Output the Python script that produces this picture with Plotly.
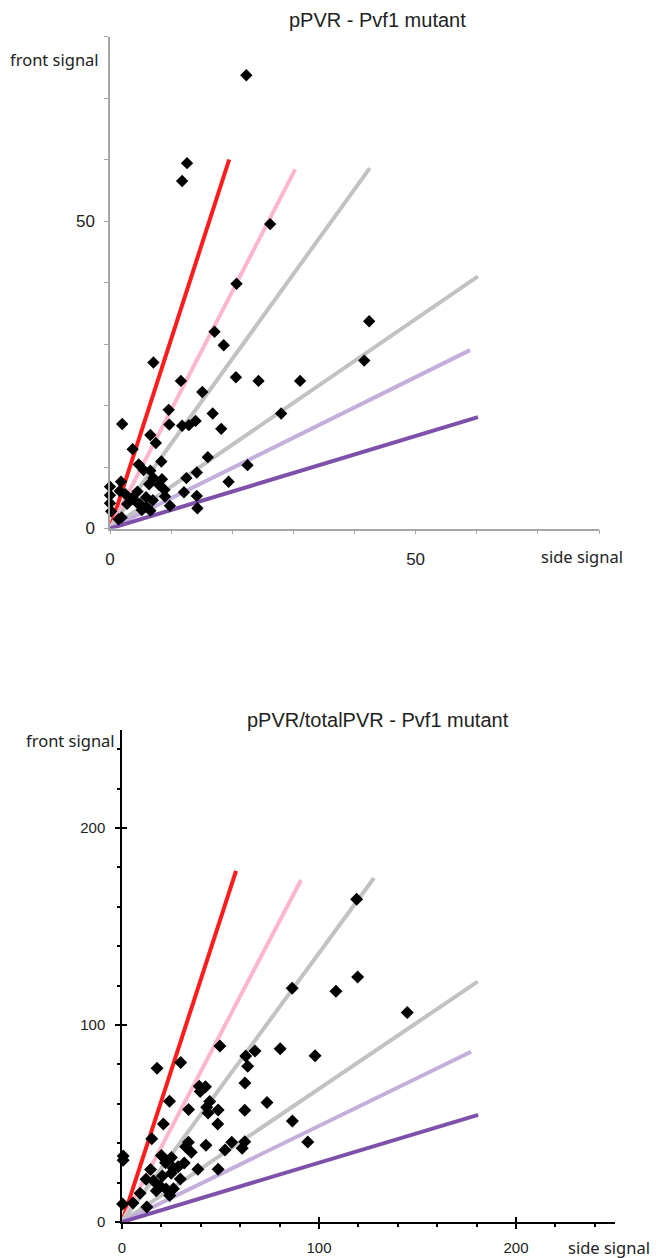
import plotly.graph_objects as go

# ---------------- data: pPVR (upper panel) ----------------
top_side = [22.3, 12.6, 11.8, 26.2, 20.7, 17.1, 42.4, 18.6, 41.6, 7.1,
            20.6, 11.6, 24.3, 31.1, 15.1, 28.0, 16.8, 9.6, 2.0, 9.7,
            11.8, 12.9, 14.0, 18.2, 6.6, 7.5, 3.7, 16.0, 8.4, 4.7,
            5.5, 6.6, 14.2, 22.5, 12.5, 8.5, 7.1, 0.0, 1.8, 1.6,
            4.5, 6.4, 8.0, 8.9, 12.1, 19.4, 14.2, 0.0, 2.5, 3.7,
            7.0, 9.0, 2.8, 0.0, 4.4, 6.0, 9.8, 6.6, 0.2, 14.3,
            1.9, 1.4, 5.2, 5.9, 4.9]
top_front = [73.7, 59.4, 56.5, 49.5, 39.8, 32.0, 33.7, 29.8, 27.3, 27.0,
             24.6, 24.0, 24.0, 24.0, 22.2, 18.7, 18.7, 19.3, 17.0, 16.9,
             16.7, 16.8, 17.5, 16.2, 15.2, 13.9, 12.9, 11.6, 10.9, 10.4,
             9.5, 9.4, 9.1, 10.3, 8.2, 8.0, 8.2, 6.8, 7.6, 6.1,
             6.0, 7.2, 7.1, 6.3, 5.9, 7.6, 5.3, 5.4, 5.6, 5.0,
             4.6, 5.2, 4.0, 4.1, 4.2, 3.5, 3.7, 2.9, 2.8, 3.3,
             1.8, 1.5, 3.0, 5.1, 4.0]

# guide lines from the origin: end points (side, front)
top_guide_side = [19.5, 30.3, 42.5, 60.2, 58.9, 60.2]
top_guide_front = [60.0, 58.4, 58.6, 41.0, 29.0, 18.1]

# ---------------- data: pPVR/totalPVR (lower panel) ----------------
bot_side = [119.1, 119.6, 108.6, 86.4, 144.8, 98.0, 94.3, 80.3, 67.5, 62.8,
            49.7, 29.8, 17.8, 63.8, 62.4, 39.2, 42.4, 39.7, 24.1, 44.5,
            43.0, 33.8, 48.8, 43.7, 62.3, 73.6, 48.6, 21.0, 86.5, 15.1,
            33.7, 42.6, 55.7, 62.3, 52.3, 61.0, 32.3, 35.2, 0.6, 0.6,
            20.0, 25.1, 22.1, 31.6, 28.5, 38.5, 48.8, 14.5, 26.0, 20.5,
            25.0, 12.2, 16.0, 29.6, 9.2, 17.4, 22.4, 26.1, 24.2, 19.4,
            0.3, 5.6, 12.6]
bot_front = [163.8, 124.4, 117.1, 118.7, 106.3, 84.4, 40.6, 87.9, 86.8, 84.3,
             89.3, 81.0, 78.0, 79.0, 70.5, 68.9, 68.6, 66.2, 61.3, 61.2,
             58.3, 57.1, 56.9, 55.3, 56.7, 60.7, 49.7, 49.7, 51.3, 42.3,
             40.5, 38.9, 40.5, 40.7, 36.5, 37.4, 38.2, 35.4, 33.5, 31.4,
             33.8, 32.8, 30.1, 29.9, 28.0, 26.8, 26.8, 26.6, 27.4, 23.4,
             24.7, 21.7, 20.9, 21.8, 14.6, 15.9, 16.8, 16.9, 13.5, 18.3,
             9.1, 9.6, 7.6]

bot_guide_side = [57.9, 90.9, 127.9, 180.5, 177.2, 180.8]
bot_guide_front = [178.2, 173.6, 174.6, 122.0, 86.4, 54.4]

guide_colors = ["#FF1C1C", "#FFB5CF", "#C2C2C2", "#C2C2C2", "#C4AEDB", "#7E50A9"]

top_ticks = [0, 50]
bot_ticks = [0, 100, 200]

W, H = 656, 1258
fig = go.Figure()

# guide lines, drawn first so the points sit on top
for xs, ys, xa, ya in [(top_guide_side, top_guide_front, "x", "y"),
                       (bot_guide_side, bot_guide_front, "x2", "y2")]:
    for gx, gy, col in zip(xs, ys, guide_colors):
        fig.add_trace(go.Scatter(x=[0, gx], y=[0, gy], mode="lines",
                                 line=dict(color=col, width=4),
                                 xaxis=xa, yaxis=ya, hoverinfo="skip",
                                 showlegend=False))

fig.add_trace(go.Scatter(x=top_side, y=top_front, mode="markers",
                         marker=dict(symbol="diamond", size=9.5, color="black",
                                     line=dict(width=0)),
                         xaxis="x", yaxis="y", showlegend=False, cliponaxis=False))
fig.add_trace(go.Scatter(x=bot_side, y=bot_front, mode="markers",
                         marker=dict(symbol="diamond", size=10, color="black",
                                     line=dict(width=0)),
                         xaxis="x2", yaxis="y2", showlegend=False, cliponaxis=False))

def px_x(p):
    return p / W

def px_y(p):
    return 1 - p / H

tick_font = dict(family="Liberation Sans, Arial, sans-serif", size=17, color="#222")
tick_font_b = dict(family="Liberation Sans, Arial, sans-serif", size=15, color="#222")

grey_axis = "#A6A6A6"
top_x_dom = [px_x(110), px_x(599)]
top_y_dom = [px_y(528.5), px_y(36.5)]
bot_x_dom = [px_x(122), px_x(614.5)]
bot_y_dom = [px_y(1222), px_y(729.5)]

fig.update_layout(
    width=W, height=H,
    margin=dict(l=0, r=0, t=0, b=0),
    paper_bgcolor="white", plot_bgcolor="white",
    xaxis=dict(domain=top_x_dom, range=[0, 80], anchor="y",
               showgrid=False, zeroline=False, showline=True, linecolor=grey_axis,
               linewidth=1.5, ticks="outside", ticklen=4, tickcolor=grey_axis,
               tickvals=top_ticks, tickfont=tick_font, ticklabelstandoff=10,
               minor=dict(dtick=10, ticks="outside", ticklen=4, tickcolor=grey_axis),
               automargin=False, fixedrange=True),
    yaxis=dict(domain=top_y_dom, range=[0, 80], anchor="x",
               showgrid=False, zeroline=False, showline=True, linecolor=grey_axis,
               linewidth=1.5, ticks="outside", ticklen=4, tickcolor=grey_axis,
               tickvals=top_ticks, tickfont=tick_font, ticklabelstandoff=6,
               minor=dict(dtick=10, ticks="outside", ticklen=4, tickcolor=grey_axis),
               automargin=False, fixedrange=True),
    xaxis2=dict(domain=bot_x_dom, range=[0, 250], anchor="y2",
                showgrid=False, zeroline=False, showline=True, linecolor="black",
                linewidth=1.5, ticks="outside", ticklen=5, tickcolor="black",
                tickwidth=1.5, tickvals=bot_ticks, tickfont=tick_font_b,
                ticklabelstandoff=6,
                minor=dict(dtick=20, ticks="outside", ticklen=3, tickcolor="black"),
                automargin=False, fixedrange=True),
    yaxis2=dict(domain=bot_y_dom, range=[0, 250], anchor="x2",
                showgrid=False, zeroline=False, showline=True, linecolor="black",
                linewidth=1.5, ticks="outside", ticklen=5, tickcolor="black",
                tickwidth=1.5, tickvals=bot_ticks, tickfont=tick_font_b,
                ticklabelstandoff=7,
                minor=dict(dtick=20, ticks="outside", ticklen=3, tickcolor="black"),
                automargin=False, fixedrange=True),
    # overlay axes that add the inner half of the crossing major ticks
    xaxis3=dict(domain=bot_x_dom, range=[0, 250], anchor="y3", overlaying="x2",
                showgrid=False, zeroline=False, showline=False, ticks="inside",
                ticklen=5, tickwidth=1.5, tickcolor="black", tickvals=bot_ticks,
                showticklabels=False, fixedrange=True),
    yaxis3=dict(domain=bot_y_dom, range=[0, 250], anchor="x3", overlaying="y2",
                showgrid=False, zeroline=False, showline=False, ticks="inside",
                ticklen=5, tickwidth=1.5, tickcolor="black", tickvals=bot_ticks,
                showticklabels=False, fixedrange=True),
)
# an empty trace so the overlay axes get drawn
fig.add_trace(go.Scatter(x=[None], y=[None], xaxis="x3", yaxis="y3",
                         showlegend=False, hoverinfo="skip"))

title_font = dict(family="Liberation Sans, Arial, sans-serif", size=20, color="#222")
label_font = dict(family="Noto Sans, Open Sans, sans-serif", size=16.5, color="#222")

annotations = [
    dict(text="pPVR - Pvf1 mutant", x=px_x(287), y=px_y(20), font=title_font,
         xanchor="left", yanchor="middle"),
    dict(text="front signal", x=px_x(101), y=px_y(59), font=label_font,
         xanchor="right", yanchor="middle"),
    dict(text="side signal", x=px_x(625), y=px_y(556), font=label_font,
         xanchor="right", yanchor="middle"),
    dict(text="pPVR/totalPVR - Pvf1 mutant", x=px_x(245), y=px_y(720), font=title_font,
         xanchor="left", yanchor="middle"),
    dict(text="front signal", x=px_x(117), y=px_y(740), font=label_font,
         xanchor="right", yanchor="middle"),
    dict(text="side signal", x=px_x(652), y=px_y(1247), font=label_font,
         xanchor="right", yanchor="middle"),
]
for a in annotations:
    a.update(xref="paper", yref="paper", showarrow=False)
fig.update_layout(annotations=annotations)

fig.write_html("out.html", config={"displayModeBar": False})
